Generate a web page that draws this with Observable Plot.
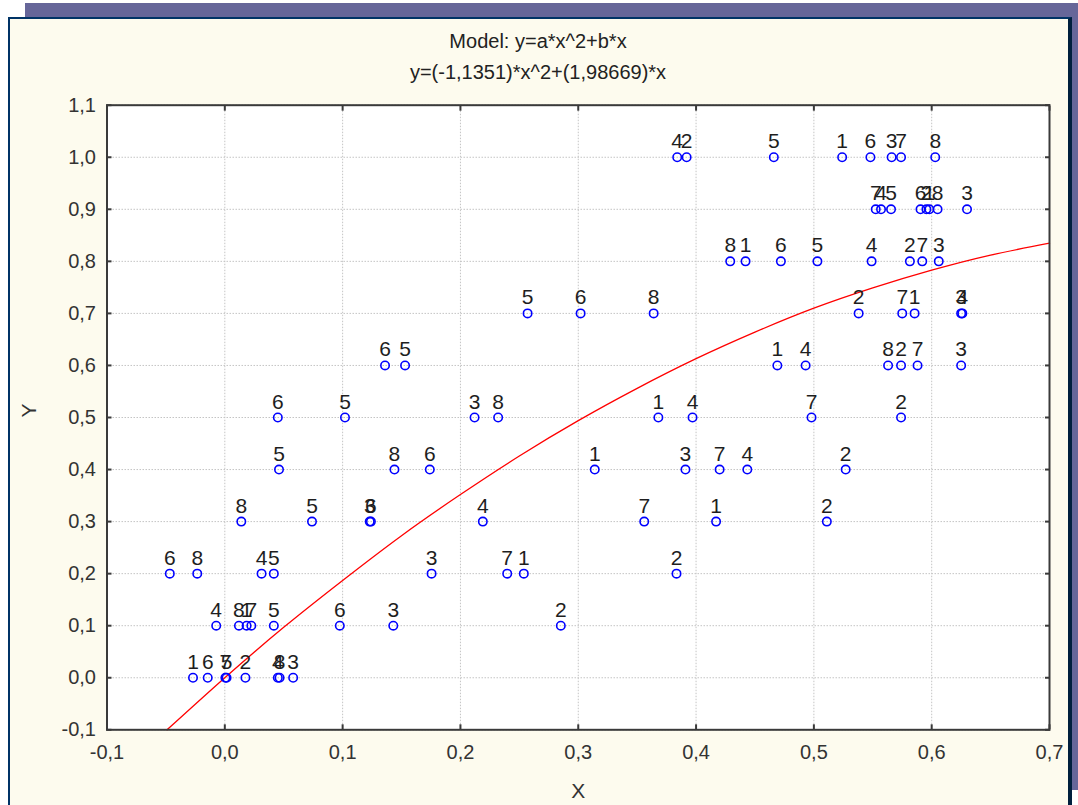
<!DOCTYPE html>
<html>
<head>
<meta charset="utf-8">
<script src="https://cdn.jsdelivr.net/npm/d3@7"></script>
<script src="https://cdn.jsdelivr.net/npm/@observablehq/plot@0.6"></script>
<style>
  body { margin: 0; background: #ffffff; font-family: "Liberation Sans Narrow", "Liberation Sans", Arial, sans-serif; }
  #wrap { position: relative; width: 1078px; height: 805px; overflow: hidden; }
  #band { position: absolute; left: 25px; top: 3px; width: 1053px; height: 787px; background: #666699; }
  #panel { position: absolute; left: 8px; top: 17px; width: 1064px; height: 800px; background: #FDFBEE;
           border: 2px solid #003366; border-right: 4px solid #001f3d; box-sizing: border-box; }
  .title { position: absolute; left: 8px; width: 1060px; text-align: center; font-size: 20px; color: #222; }
  #chart { position: absolute; left: 0; top: 0; }
</style>
</head>
<body>
<div id="wrap">
  <div id="band"></div>
  <div id="panel"></div>
  <div class="title" id="t1" style="top:30px"></div>
  <div class="title" id="t2" style="top:61px"></div>
  <div id="chart"></div>
</div>
<script>
// ---- texts ----
const titleLine1 = "Model: y=a*x^2+b*x";
const titleLine2 = "y=(-1,1351)*x^2+(1,98669)*x";
const xLabel = "X";
const yLabel = "Y";

// ---- tick values ----
const xTicks = [-0.1, 0.0, 0.1, 0.2, 0.3, 0.4, 0.5, 0.6, 0.7];
const yTicks = [-0.1, 0.0, 0.1, 0.2, 0.3, 0.4, 0.5, 0.6, 0.7, 0.8, 0.9, 1.0, 1.1];

// ---- scatter points ----
const pointX = [
  // y = 1.0
  0.384, 0.392, 0.466, 0.524, 0.548, 0.566, 0.574, 0.603,
  // y = 0.9
  0.5525, 0.557, 0.5655, 0.5905, 0.5955, 0.598, 0.605, 0.630,
  // y = 0.8
  0.429, 0.442, 0.472, 0.503, 0.549, 0.5815, 0.592, 0.606,
  // y = 0.7
  0.257, 0.302, 0.364, 0.538, 0.575, 0.5855, 0.625, 0.626,
  // y = 0.6
  0.136, 0.153, 0.469, 0.493, 0.563, 0.574, 0.588, 0.625,
  // y = 0.5
  0.045, 0.102, 0.212, 0.232, 0.368, 0.397, 0.498, 0.574,
  // y = 0.4
  0.046, 0.144, 0.174, 0.314, 0.391, 0.420, 0.4435, 0.527,
  // y = 0.3
  0.014, 0.074, 0.123, 0.124, 0.219, 0.356, 0.417, 0.511,
  // y = 0.2
  -0.0467, -0.0234, 0.0312, 0.0416, 0.1755, 0.2397, 0.2538, 0.3834,
  // y = 0.1
  -0.0073, 0.012, 0.0185, 0.0225, 0.0416, 0.0976, 0.143, 0.2852,
  // y = 0.0
  -0.027, -0.0145, 0.0005, 0.0015, 0.0175, 0.045, 0.0465, 0.058
];
const pointY = [
  1.0, 1.0, 1.0, 1.0, 1.0, 1.0, 1.0, 1.0,
  0.9, 0.9, 0.9, 0.9, 0.9, 0.9, 0.9, 0.9,
  0.8, 0.8, 0.8, 0.8, 0.8, 0.8, 0.8, 0.8,
  0.7, 0.7, 0.7, 0.7, 0.7, 0.7, 0.7, 0.7,
  0.6, 0.6, 0.6, 0.6, 0.6, 0.6, 0.6, 0.6,
  0.5, 0.5, 0.5, 0.5, 0.5, 0.5, 0.5, 0.5,
  0.4, 0.4, 0.4, 0.4, 0.4, 0.4, 0.4, 0.4,
  0.3, 0.3, 0.3, 0.3, 0.3, 0.3, 0.3, 0.3,
  0.2, 0.2, 0.2, 0.2, 0.2, 0.2, 0.2, 0.2,
  0.1, 0.1, 0.1, 0.1, 0.1, 0.1, 0.1, 0.1,
  0.0, 0.0, 0.0, 0.0, 0.0, 0.0, 0.0, 0.0
];
const pointLabel = [
  "4","2","5","1","6","3","7","8",
  "7","4","5","6","2","1","8","3",
  "8","1","6","5","4","2","7","3",
  "5","6","8","2","7","1","3","4",
  "6","5","1","4","8","2","7","3",
  "6","5","3","8","1","4","7","2",
  "5","8","6","1","3","7","4","2",
  "8","5","3","6","4","7","1","2",
  "6","8","4","5","3","7","1","2",
  "4","8","1","7","5","6","3","2",
  "1","6","7","5","2","4","8","3"
];

// ---- fitted curve, points ----
const curveX = [-0.049, 0.0, 0.05, 0.1, 0.15, 0.2, 0.25, 0.3, 0.35, 0.4, 0.45, 0.5, 0.55, 0.6, 0.65, 0.7];
const curveY = [-0.100, 0.000, 0.097, 0.187, 0.273, 0.352, 0.426, 0.494, 0.556, 0.613, 0.664, 0.710, 0.749, 0.783, 0.812, 0.835];

document.getElementById("t1").textContent = titleLine1;
document.getElementById("t2").textContent = titleLine2;

const points = pointX.map((x, i) => ({x, y: pointY[i], label: pointLabel[i]}));
const curve = curveX.map((x, i) => ({x, y: curveY[i]}));
const fmt = d => d.toFixed(1).replace(".", ",");

const axisColor = "#3a3a3a";
const fontStack = "'Liberation Sans Narrow', 'Liberation Sans', Arial, sans-serif";

const chart = Plot.plot({
  width: 1078,
  height: 805,
  marginLeft: 106.5,
  marginRight: 29,
  marginTop: 104.7,
  marginBottom: 75.7,
  style: {background: "transparent", fontFamily: fontStack, overflow: "visible"},
  x: {domain: [-0.1, 0.7]},
  y: {domain: [-0.1, 1.1]},
  marks: [
    Plot.frame({fill: "white", stroke: null}),
    Plot.gridX(xTicks, {stroke: "#c4c4c4", strokeOpacity: 1, strokeDasharray: "1.5,1.5"}),
    Plot.gridY(yTicks, {stroke: "#c4c4c4", strokeOpacity: 1, strokeDasharray: "1.5,1.5"}),
    Plot.line(curve, {x: "x", y: "y", stroke: "#ff0000", strokeWidth: 1.3, curve: "natural"}),
    Plot.dot(points, {x: "x", y: "y", r: 4.2, stroke: "#0000ff", strokeWidth: 1.6, fill: "none"}),
    Plot.text(points, {x: "x", y: "y", text: "label", dy: -9, lineAnchor: "bottom", fontSize: 21, fill: "#1e1e1e"}),
    Plot.frame({stroke: axisColor, strokeWidth: 2}),
    // inward tick marks on all four sides
    Plot.axisX(xTicks, {anchor: "bottom", tickSize: 5, dy: -5, text: null, label: null, stroke: axisColor, strokeWidth: 2}),
    Plot.axisX(xTicks, {anchor: "top", tickSize: 5, dy: 5, text: null, label: null, stroke: axisColor, strokeWidth: 2}),
    Plot.axisY(yTicks, {anchor: "left", tickSize: 5, dx: 5, text: null, label: null, stroke: axisColor, strokeWidth: 2}),
    Plot.axisY(yTicks, {anchor: "right", tickSize: 5, dx: -5, text: null, label: null, stroke: axisColor, strokeWidth: 2}),
    // tick labels
    Plot.axisX(xTicks, {anchor: "bottom", tickSize: 0, tickPadding: 15, tickFormat: fmt, fontSize: 20, fill: "#333", label: null}),
    Plot.axisY(yTicks, {anchor: "left", tickSize: 0, tickPadding: 11, tickFormat: fmt, fontSize: 20, fill: "#333", label: null}),
    // axis titles
    Plot.text([xLabel], {frameAnchor: "bottom", dy: 61, text: d => d, fontSize: 21, fill: "#333", lineAnchor: "middle"}),
    Plot.text([yLabel], {frameAnchor: "left", dx: -78, text: d => d, fontSize: 21, fill: "#333", rotate: -90, lineAnchor: "middle"})
  ]
});
document.getElementById("chart").appendChild(chart);
</script>
</body>
</html>
